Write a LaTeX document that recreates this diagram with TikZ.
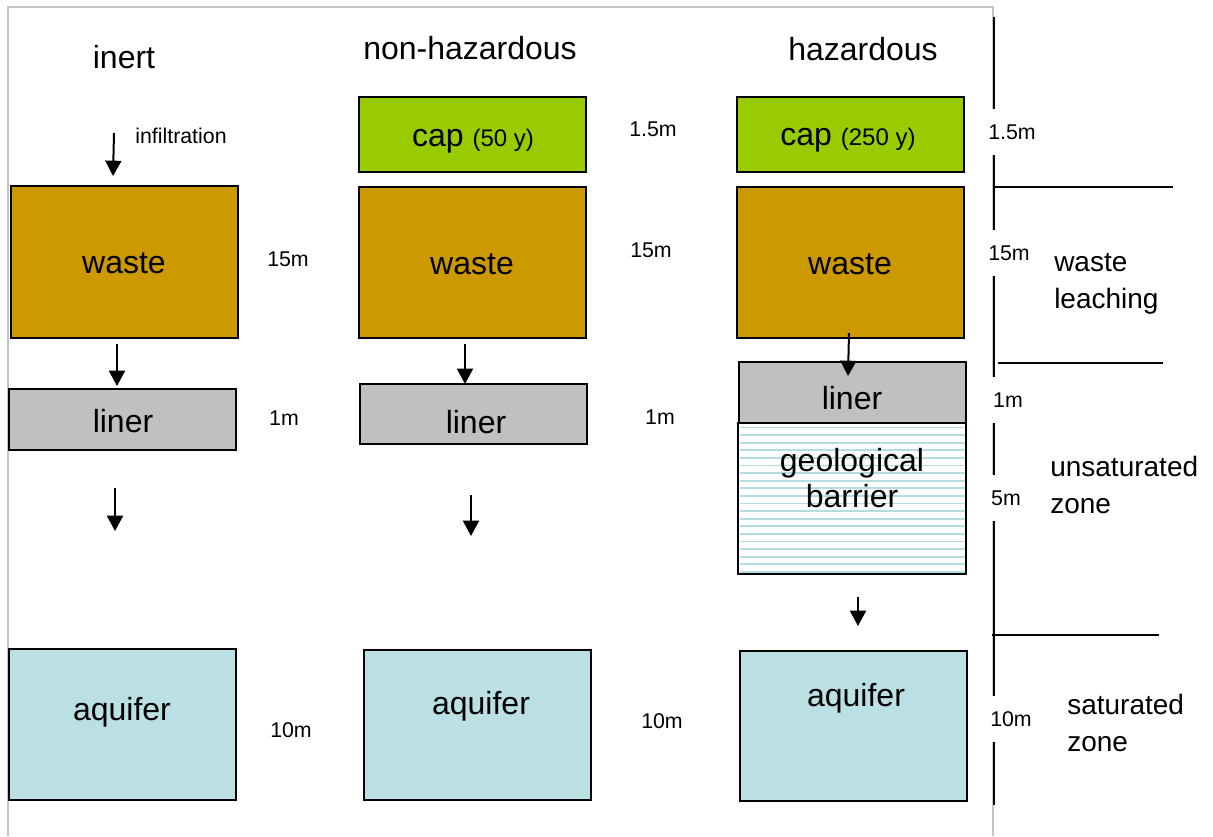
\documentclass[tikz,border=0pt]{standalone}
\usepackage{fontspec}
\setmainfont{Liberation Sans}
\usetikzlibrary{fit,arrows.meta}

\definecolor{wastecol}{HTML}{CC9900}
\definecolor{capcol}{HTML}{99CC00}
\definecolor{linercol}{HTML}{C0C0C0}
\definecolor{aquicol}{HTML}{BBE0E3}
\definecolor{hatchcol}{HTML}{B4DDE0}
\definecolor{framecol}{HTML}{C4C4C4}

\tikzset{
  box/.style={draw=black, line width=1.5pt, inner sep=0pt},
  big/.style={font=\fontsize{24}{27}\selectfont, inner sep=0pt},
  small/.style={font=\fontsize{16}{19}\selectfont, inner sep=0pt},
  dim/.style={font=\fontsize{16}{19}\selectfont, fill=white, inner sep=2pt, minimum height=35pt},
  zone/.style={font=\fontsize{21}{27.5}\selectfont, align=left, anchor=west, inner sep=0pt},
  flow/.style={line width=1.5pt, -{Triangle[length=11.5pt,width=12pt]}},
  rule/.style={line width=1.5pt},
  hatchline/.style={hatchcol, line width=1.3pt},
}

\begin{document}
\begin{tikzpicture}[x=0.75pt, y=-0.75pt]
\useasboundingbox (0,0) rectangle (1213,836);

% outer frame (open at the bottom)
\draw[framecol, line width=1.5pt] (8,836) -- (8,7) -- (993,7) -- (993,836);

% column headings
\node[big] (h1) at (124,57) {inert};
\node[big] (h2) at (470,48) {non-hazardous};
\node[big] (h3) at (863,49) {hazardous};

% ---------------- inert ----------------
\node[box, fill=wastecol, fit={(11,186)(238,338)}] (w1) {};
\node[big] at (124,263) {waste};
\node[box, fill=linercol, fit={(9,389)(236,450)}] (l1) {};
\node[big] at (123,421) {liner};
\node[box, fill=aquicol, fit={(9,649)(236,800)}] (a1) {};
\node[big] at (122,712) {aquifer};

\node[small] (inf) at (181,136) {infiltration};
\coordinate (i1a) at (114,133); \coordinate (i1b) at (113,176);
\draw[flow] (i1a) -- (i1b);
\coordinate (f1a) at (117,344); \coordinate (f1b) at (117,386);
\draw[flow] (f1a) -- (f1b);
\coordinate (g1a) at (115,488); \coordinate (g1b) at (115,531);
\draw[flow] (g1a) -- (g1b);

\node[small] (d1a) at (288,259) {15m};
\node[small] (d1b) at (284,418) {1m};
\node[small] (d1c) at (291,730) {10m};

% ---------------- non-hazardous ----------------
\node[box, fill=capcol, fit={(359,97)(586,172)}] (c2) {};
\node[big] at (473,141) {cap \fontsize{18}{20}\selectfont(50 y)};
\node[box, fill=wastecol, fit={(359,187)(586,338)}] (w2) {};
\node[big] at (472,264) {waste};
\node[box, fill=linercol, fit={(360,384)(587,444)}] (l2) {};
\node[big] at (476,422) {liner};
\node[box, fill=aquicol, fit={(364,650)(591,800)}] (a2) {};
\node[big] at (481,706) {aquifer};

\coordinate (f2a) at (465,344); \coordinate (f2b) at (465,384);
\draw[flow] (f2a) -- (f2b);
\coordinate (g2a) at (471,495); \coordinate (g2b) at (471,536);
\draw[flow] (g2a) -- (g2b);

\node[small] (d2a) at (653,129) {1.5m};
\node[small] (d2b) at (651,250) {15m};
\node[small] (d2c) at (660,417) {1m};
\node[small] (d2d) at (662,721) {10m};

% ---------------- hazardous ----------------
\node[box, fill=capcol, fit={(737,97)(964,172)}] (c3) {};
\node[big] at (848,140) {cap \fontsize{18}{20}\selectfont(250 y)};
\node[box, fill=wastecol, fit={(737,187)(964,338)}] (w3) {};
\node[big] at (850,264) {waste};
% geological barrier: white box with light horizontal stripes
\node[box, fill=white, fit={(738,423)(966,574)}] (b3) {};
\foreach \yy in {427.5,435.1,...,572} \draw[hatchline] (739.5,\yy) -- (964.5,\yy);
\draw[line width=1.5pt] (738,423) rectangle (966,574);
\node[big, align=center, font=\fontsize{24}{26.5}\selectfont] at (852,478) {geological\\barrier};
\node[box, fill=linercol, fit={(739,362)(966,423)}] (l3) {};
\node[big] at (852,398) {liner};
\node[box, fill=aquicol, fit={(740,651)(967,801)}] (a3) {};
\node[big] at (856,698) {aquifer};

\coordinate (f3a) at (849,333); \coordinate (f3b) at (848,376);
\draw[flow] (f3a) -- (f3b);
\coordinate (g3a) at (858,597); \coordinate (g3b) at (858,626);
\draw[flow] (g3a) -- (g3b);

% ---------------- depth scale ----------------
\coordinate (st) at (994,17); \coordinate (sb) at (994,805);
\draw[rule] (st) -- (sb);
\coordinate (r1a) at (994,187); \coordinate (r1b) at (1173,187);
\coordinate (r2a) at (998,363); \coordinate (r2b) at (1163,363);
\coordinate (r3a) at (992,635); \coordinate (r3b) at (1159,635);
\draw[rule] (r1a) -- (r1b);
\draw[rule] (r2a) -- (r2b);
\draw[rule] (r3a) -- (r3b);

\node[dim] (s1) at (1012,132) {1.5m};
\node[dim] (s2) at (1009,253) {15m};
\node[dim] (s3) at (1008,400) {1m};
\node[dim] (s4) at (1006,498) {5m};
\node[dim] (s5) at (1011,719) {10m};

\node[zone] (z1) at (1054,284) {waste\\leaching};
\node[zone] (z2) at (1050,485) {unsaturated\\zone};
\node[zone] (z3) at (1067,723) {saturated\\zone};
\end{tikzpicture}
\end{document}
